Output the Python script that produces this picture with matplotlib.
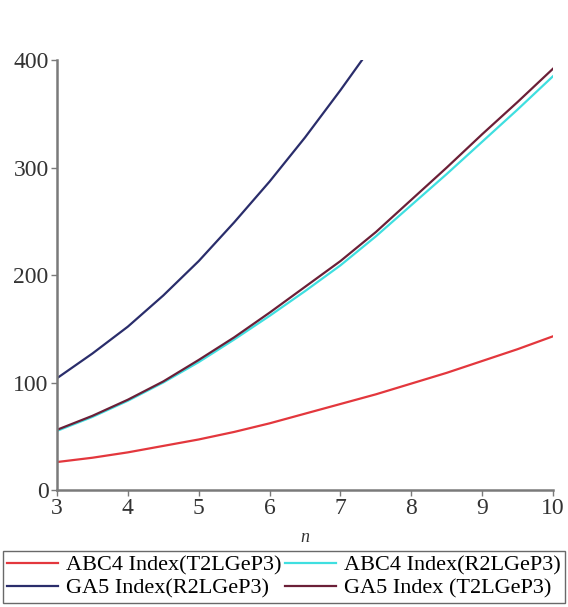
import matplotlib.pyplot as plt

# values
n_vals = [3, 3.5, 4, 4.5, 5, 5.5, 6, 6.5, 7, 7.5, 8, 8.5, 9, 9.5, 10]
abc4_t2 = [26, 30, 35, 41, 47, 54, 62, 71, 80, 89, 99, 109, 120, 131, 143]
abc4_r2 = [55, 68, 83, 100, 119, 140, 162, 185, 209, 236, 265, 294, 324, 354, 385]
ga5_t2 = [56, 69, 84, 101, 121, 142, 165, 189, 213, 240, 270, 300, 331, 361, 392]

n_blue = [3, 3.5, 4, 4.5, 5, 5.5, 6, 6.5, 7, 7.5]
ga5_r2 = [104, 127, 152, 181, 213, 249, 287, 328, 372, 418]

plt.rcParams['font.family'] = ['Liberation Serif', 'DejaVu Serif']

fig = plt.figure(figsize=(5.68, 6.07), dpi=100)
ax = fig.add_axes([0.1004, 0.1928, 0.8732, 0.7082])

l1, = ax.plot(n_vals, abc4_t2, color='#e3373d', lw=1.6, label='ABC4 Index(T2LGeP3)')
l2, = ax.plot(n_vals, abc4_r2, color='#3fdfe0', lw=1.6, label='ABC4 Index(R2LGeP3)')
l3, = ax.plot(n_blue, ga5_r2, color='#2a2d6b', lw=1.6, label='GA5 Index(R2LGeP3)')
l4, = ax.plot(n_vals, ga5_t2, color='#6b1f37', lw=1.6, label='GA5 Index (T2LGeP3)')

ax.set_xlim(3, 10)
ax.set_ylim(0, 400)
ax.set_xticks(range(3, 11))
ax.set_yticks([0, 100, 200, 300, 400])

for s in ['top', 'right']:
    ax.spines[s].set_visible(False)
for s in ['left', 'bottom']:
    ax.spines[s].set_color('#7a7a7a')
    ax.spines[s].set_linewidth(1.8)
ax.tick_params(colors='#7a7a7a', labelcolor='#333333', labelsize=17, length=4, width=1, pad=2)

ax.set_xlabel('n', style='italic', fontsize=13, color='#333333', labelpad=7)

fig.legend([l1, l3, l2, l4], [l1.get_label(), l3.get_label(), l2.get_label(), l4.get_label()],
           loc='lower center', bbox_to_anchor=(0.5, 0.006),
           ncol=2, fontsize=16, frameon=True, fancybox=False, edgecolor='#444444',
           handlelength=2.3, borderpad=0.2, labelspacing=0.12, columnspacing=0.15,
           handletextpad=0.35, borderaxespad=0.0)

fig.savefig('out.png', dpi=100)
